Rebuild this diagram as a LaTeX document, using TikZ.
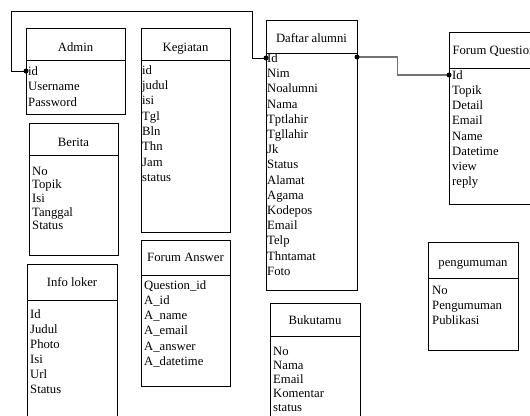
\documentclass[tikz,border=0pt]{standalone}
\usepackage{fontspec}
\setmainfont{Liberation Serif}
\usetikzlibrary{fit}
\newcommand{\fr}{\rule{0pt}{10pt}}
\tikzset{
  tbl/.style={draw=black, line width=0.9pt, inner sep=0pt, outer sep=0pt},
  sepline/.style={draw=black, line width=0.9pt},
  ttl/.style={font=\fontsize{12.7}{15.2}\selectfont, inner sep=0pt, anchor=base},
  flds/.style={font=\fontsize{12.7}{#1}\selectfont, inner sep=0pt, align=left, anchor=north west},
  flds/.default=15.2,
  conn/.style={draw=black, line width=0.8pt},
  conn2/.style={draw=black!55, line width=1.5pt},
  dot/.style={circle, fill=black, inner sep=0pt, minimum size=5pt}
}
\begin{document}
\begin{tikzpicture}[x=1pt,y=-1pt]
\useasboundingbox (0,0) rectangle (530,415);
\clip (0,0) rectangle (530,415);

% Admin
\node[tbl, fit={(26,28) (125,114)}] (admin) {};
\draw[sepline] (26,60) -- (125,60);
\node[ttl] (admin-t) at (75.5,51) {Admin};
\node[flds=15.5] (admin-f) at (28,65) {\fr id\\Username\\Password};

% Kegiatan
\node[tbl, fit={(141,28) (230,232)}] (keg) {};
\draw[sepline] (141,60) -- (230,60);
\node[ttl] (keg-t) at (185.5,51) {Kegiatan};
\node[flds=15.3] (keg-f) at (142,64) {\fr id\\judul\\isi\\Tgl\\Bln\\Thn\\Jam\\status};

% Daftar alumni
\node[tbl, fit={(266,20) (357,290)}] (alumni) {};
\draw[sepline] (266,53) -- (357,53);
\node[ttl] (alumni-t) at (311.5,42) {Daftar alumni};
\node[flds=15.2] (alumni-f) at (267,52.2) {\fr Id\\Nim\\Noalumni\\Nama\\Tptlahir\\Tgllahir\\Jk\\Status\\Alamat\\Agama\\Kodepos\\Email\\Telp\\Thntamat\\Foto};

% Forum Question
\node[tbl, fit={(449,32) (539,204)}] (fq) {};
\draw[sepline] (449,68) -- (539,68);
\node[ttl] (fq-t) at (494,54) {Forum Question};
\node[flds=15.2] (fq-f) at (452,69) {\fr Id\\Topik\\Detail\\Email\\Name\\Datetime\\view\\reply};

% Berita
\node[tbl, fit={(29,123) (118,255)}] (berita) {};
\draw[sepline] (29,155) -- (118,155);
\node[ttl] (berita-t) at (73.5,146) {Berita};
\node[flds=13.6] (berita-f) at (32,165) {\fr No\\Topik\\Isi\\Tanggal\\Status};

% Info loker
\node[tbl, fit={(27,264) (117,440)}] (loker) {};
\draw[sepline] (27,300) -- (117,300);
\node[ttl] (loker-t) at (72,286) {Info loker};
\node[flds=15] (loker-f) at (30,308) {\fr Id\\Judul\\Photo\\Isi\\Url\\Status};

% Forum Answer
\node[tbl, fit={(141,240) (230,386)}] (fa) {};
\draw[sepline] (141,275) -- (230,275);
\node[ttl] (fa-t) at (185.5,261) {Forum Answer};
\node[flds=15.2] (fa-f) at (144,279) {\fr Question\_id\\A\_id\\A\_name\\A\_email\\A\_answer\\A\_datetime};

% pengumuman
\node[tbl, fit={(428,242) (518,350)}] (peng) {};
\draw[sepline] (428,278) -- (518,278);
\node[ttl] (peng-t) at (473,266) {pengumuman};
\node[flds=15.3] (peng-f) at (432,284) {\fr No\\Pengumuman\\Publikasi};

% Bukutamu
\node[tbl, fit={(270,303) (360,440)}] (buku) {};
\draw[sepline] (270,336) -- (360,336);
\node[ttl] (buku-t) at (315,324) {Bukutamu};
\node[flds=14] (buku-f) at (273,345) {\fr No\\Nama\\Email\\Komentar\\status};

% connector points
\coordinate (admin-id) at (26,71);
\coordinate (alumni-idl) at (266,58);
\coordinate (alumni-idr) at (357,57);
\coordinate (fq-id) at (449,75);

\draw[conn] (admin-id) -- (11,71) |- (252,11) |- (alumni-idl);
\draw[conn2] (alumni-idr) -- (397.5,57) |- (fq-id);

\node[dot] (d1) at (admin-id) {};
\node[dot] (d2) at (alumni-idl) {};
\node[dot] (d3) at (alumni-idr) {};
\node[dot] (d4) at (fq-id) {};
\end{tikzpicture}
\end{document}
